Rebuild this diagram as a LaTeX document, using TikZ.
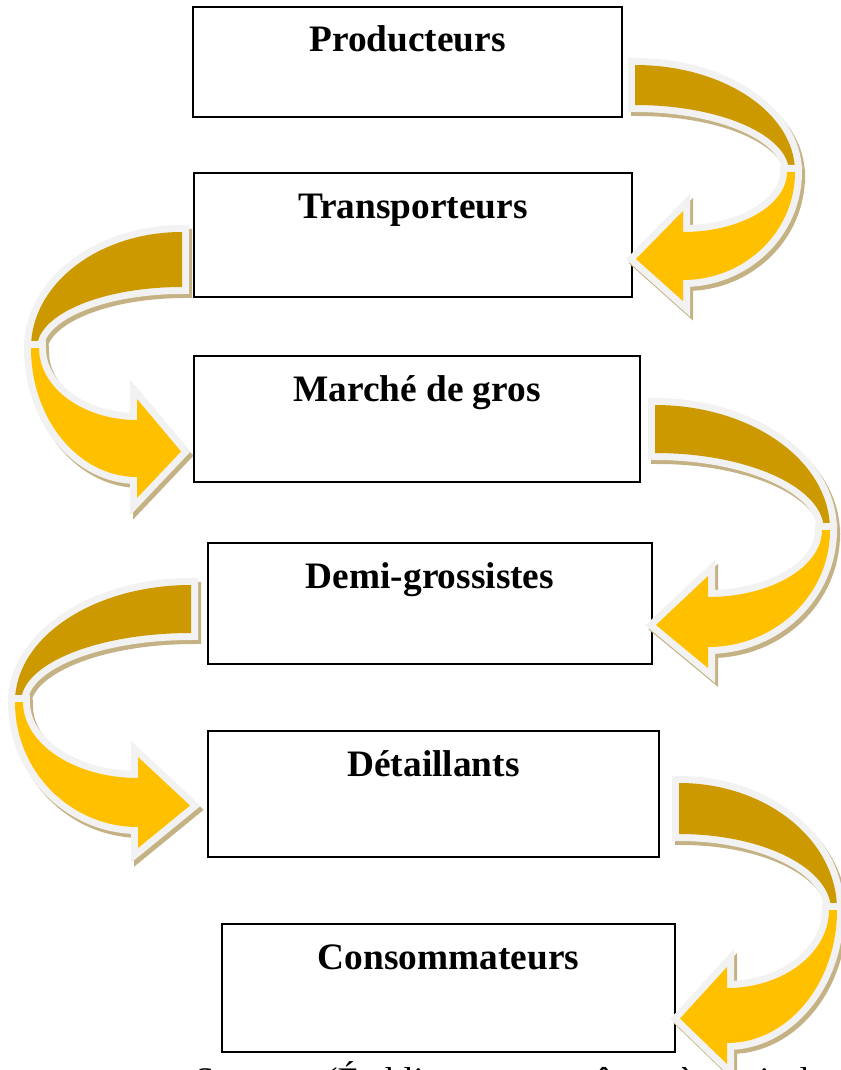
\documentclass[tikz,border=0pt]{standalone}
\usepackage{fontspec}
\setmainfont{Liberation Serif}
\usepackage{tikz}

\definecolor{backgold}{RGB}{204,154,0}
\definecolor{frontgold}{RGB}{255,192,0}
\definecolor{rimgray}{RGB}{242,242,242}
\definecolor{shadowtan}{RGB}{196,178,132}

\tikzset{
  box/.style 2 args={draw=black, line width=1.5pt, fill=white, inner sep=0pt,
    minimum width=#1*0.75pt, minimum height=#2*0.75pt},
  boxtext/.style={anchor=base, font=\fontsize{28}{34}\selectfont\bfseries},
  rim/.style={preaction={draw=rimgray, line width=10.5pt, line join=miter}},
  castshadow/.style={fill=shadowtan, draw=shadowtan, line width=10.5pt, line join=miter}
}

% ribbon arrow: x0, y of the turn, side (1 right, -1 left), outer radius,
% back outer/inner height, head offset, front outer/inner height
\newcommand{\bendarrow}[9]{%
  \begin{scope}[shift={(#1,#2)}, xscale=#3]
    % back of the ribbon
    \path[castshadow, shift={({3*#3},4)}]
      (0,-#5) arc[start angle=-90, end angle=0, x radius=#4, y radius=#5]
      -- ({#4-6},0) arc[start angle=0, end angle=-90, x radius={#4-6}, y radius=#6] -- cycle;
    \fill[backgold, rim]
      (0,-#5) arc[start angle=-90, end angle=0, x radius=#4, y radius=#5]
      -- ({#4-6},0) arc[start angle=0, end angle=-90, x radius={#4-6}, y radius=#6] -- cycle;
    % front of the ribbon with the head
    \path[castshadow, shift={({3*#3},4)}]
      (#4,0) arc[start angle=0, end angle=90, x radius={#4-#7}, y radius=#8]
      -- (#7,{#8+21}) -- (1,{(#8+#9)/2+3}) -- (#7,{#9-21}) -- (#7,#9)
      arc[start angle=90, end angle=0, x radius={#4-#7-8}, y radius=#9] -- cycle;
    \fill[frontgold, rim]
      (#4,0) arc[start angle=0, end angle=90, x radius={#4-#7}, y radius=#8]
      -- (#7,{#8+21}) -- (1,{(#8+#9)/2+3}) -- (#7,{#9-21}) -- (#7,#9)
      arc[start angle=90, end angle=0, x radius={#4-#7-8}, y radius=#9] -- cycle;
  \end{scope}}

\begin{document}
\begin{tikzpicture}[x=0.75pt, y=-0.75pt]
    \useasboundingbox (0,0) rectangle (840,1070);

    % Draw the boxes
    \node[box={429}{110}] (prod) at (407.5,62) {};
    \node[box={438}{124}] (trans) at (413,235) {};
    \node[box={446}{126}] (gros) at (417,419) {};
    \node[box={444}{121}] (demi) at (430,603.5) {};
    \node[box={451}{126}] (detail) at (433.5,794) {};
    \node[box={453}{128}] (conso) at (448.5,988) {};

    % Labels
    \node[boxtext] (prodtxt) at ([yshift=-34.5pt]prod.north) {Producteurs};
    \node[boxtext] (transtxt) at ([yshift=-34.5pt]trans.north) {Transporteurs};
    \node[boxtext] (grostxt) at ([yshift=-34.5pt]gros.north) {Marché de gros};
    \node[boxtext] (demitxt) at ([yshift=-34.5pt]demi.north) {Demi-grossistes};
    \node[boxtext] (detailtxt) at ([yshift=-34.5pt]detail.north) {Détaillants};
    \node[boxtext] (consotxt) at ([yshift=-34.5pt]conso.north) {Consommateurs};

    % Draw the curved arrows
    \bendarrow{635}{172}{1}{160}{107}{67}{48}{108}{60}
    \bendarrow{182}{348}{-1}{151}{116}{61}{45}{129}{72}
    \bendarrow{655}{530}{1}{175}{125}{77}{53}{117}{67}
    \bendarrow{191}{702}{-1}{176}{117}{69}{53}{125}{76}
    \bendarrow{679}{910}{1}{158}{127}{76}{48}{133}{78}

    % Source line, cut by the page
    \node[anchor=base west, font=\fontsize{27}{32}\selectfont] (source) at (190,1092)
        {Source : (Établi par nous-mêmes à partir des enquêtes)};
\end{tikzpicture}
\end{document}
